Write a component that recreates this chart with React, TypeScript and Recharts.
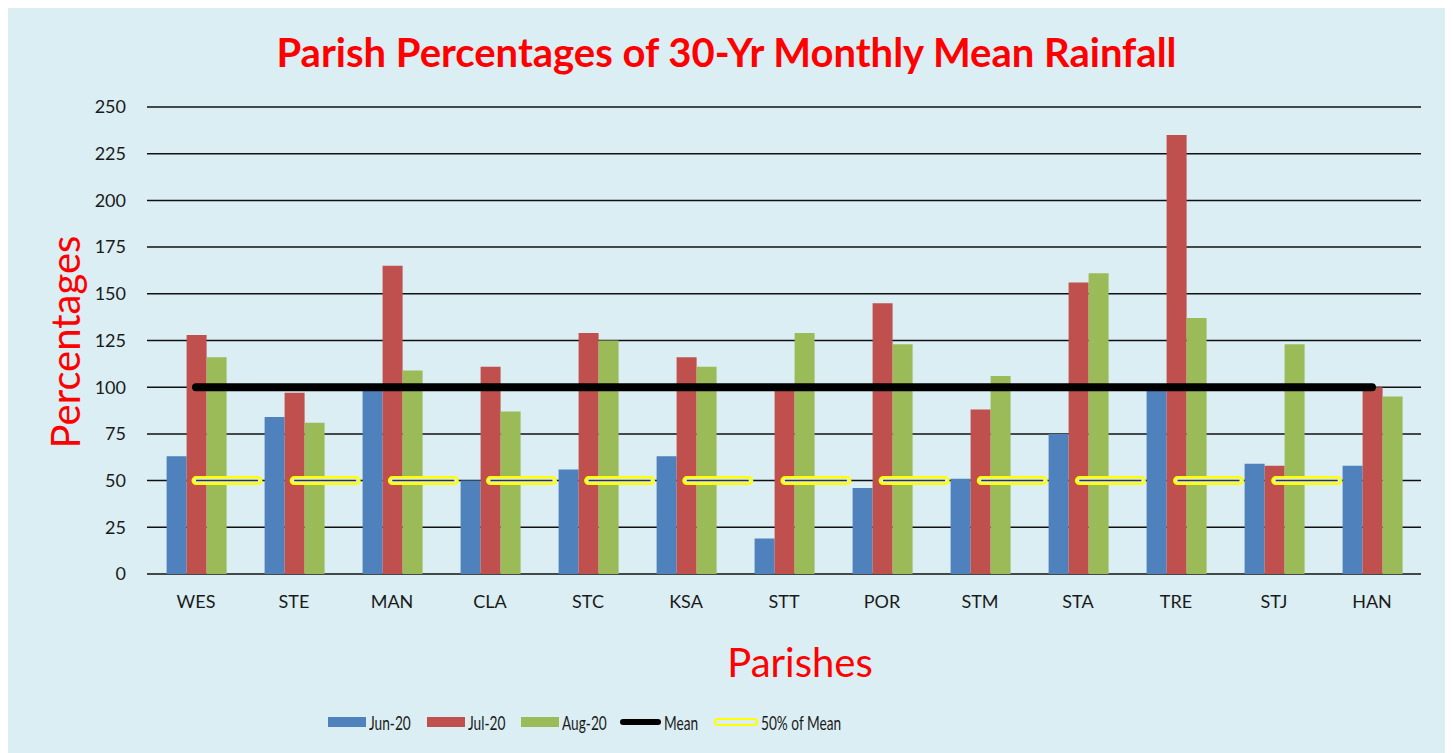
import { ComposedChart, Bar, Line, XAxis, YAxis, CartesianGrid } from 'recharts';

const parishes = ['WES', 'STE', 'MAN', 'CLA', 'STC', 'KSA', 'STT', 'POR', 'STM', 'STA', 'TRE', 'STJ', 'HAN'];
const jun20 = [63, 84, 100, 50, 56, 63, 19, 46, 51, 75, 100, 59, 58];
const jul20 = [128, 97, 165, 111, 129, 116, 100, 145, 88, 156, 235, 58, 100];
const aug20 = [116, 81, 109, 87, 125, 111, 129, 123, 106, 161, 137, 123, 95];
const meanValue = 100;
const halfMeanValue = 50;
const yTicks = [0, 25, 50, 75, 100, 125, 150, 175, 200, 225, 250];

const BLUE = '#4F81BD';
const RED = '#C0504D';
const GREEN = '#9BBB59';
const BG = '#DAEEF3';
const FONT = 'Lato, "Open Sans", sans-serif';

const data = parishes.map((p, i) => ({
    parish: p,
    jun: jun20[i],
    jul: jul20[i],
    aug: aug20[i],
    mean: meanValue,
    half: halfMeanValue,
}));

// one dash per category band (band = 98px)
const HALF_DASH = '62 36.15';

function LegendItem({ left, icon, label }: { left: number; icon: React.ReactNode; label: string }) {
    return (
        <div
            style={{
                position: 'absolute',
                left,
                top: 0,
                height: 20,
                display: 'flex',
                alignItems: 'center',
            }}
        >
            {icon}
            <span
                style={{
                    display: 'inline-block',
                    marginLeft: 3,
                    fontSize: 19,
                    color: '#1a1a1a',
                    transform: 'scaleX(0.72)',
                    transformOrigin: 'left center',
                    whiteSpace: 'nowrap',
                }}
            >
                {label}
            </span>
        </div>
    );
}

export default function App() {
    return (
        <div
            style={{
                position: 'relative',
                marginLeft: -2,
                width: 1441,
                height: 745,
                background: BG,
                boxShadow: '0 0 0 1px #d4d4d4',
                fontFamily: FONT,
            }}
        >
            <ComposedChart
                width={1441}
                height={745}
                data={data}
                margin={{ top: 99, right: 26, bottom: 149, left: 0 }}
                barCategoryGap="20%"
                barGap={0}
            >
                <CartesianGrid vertical={false} stroke="#111" strokeWidth={1.5} />
                <XAxis
                    dataKey="parish"
                    height={30}
                    axisLine={false}
                    tickLine={false}
                    tickSize={0}
                    tickMargin={21}
                    tick={{ fill: '#1a1a1a', fontSize: 18, fontFamily: FONT }}
                />
                <YAxis
                    width={141}
                    domain={[0, 250]}
                    ticks={yTicks}
                    axisLine={false}
                    tickLine={false}
                    tickSize={0}
                    tickMargin={21}
                    tick={{ fill: '#1a1a1a', fontSize: 18, fontFamily: FONT }}
                />
                <Bar dataKey="jun" fill={BLUE} isAnimationActive={false} />
                <Bar dataKey="jul" fill={RED} isAnimationActive={false} />
                <Bar dataKey="aug" fill={GREEN} isAnimationActive={false} />
                <Line
                    dataKey="mean"
                    stroke="#000"
                    strokeWidth={8}
                    strokeLinecap="round"
                    dot={false}
                    activeDot={false}
                    isAnimationActive={false}
                />
                <Line
                    dataKey="half"
                    stroke="#FFFF00"
                    strokeWidth={9}
                    strokeLinecap="round"
                    strokeDasharray={HALF_DASH}
                    dot={false}
                    activeDot={false}
                    isAnimationActive={false}
                />
                <Line
                    dataKey="half"
                    stroke={BG}
                    strokeWidth={4}
                    strokeLinecap="round"
                    strokeDasharray={HALF_DASH}
                    dot={false}
                    activeDot={false}
                    isAnimationActive={false}
                />
                <Line
                    dataKey="half"
                    stroke="#333"
                    strokeWidth={1.5}
                    strokeDasharray={HALF_DASH}
                    dot={false}
                    activeDot={false}
                    isAnimationActive={false}
                />
            </ComposedChart>

            <div
                style={{
                    position: 'absolute',
                    left: 0,
                    top: 20,
                    width: '100%',
                    textAlign: 'center',
                    fontSize: 40,
                    fontWeight: 700,
                    color: '#FF0000',
                    lineHeight: 1.2,
                }}
            >
                Parish Percentages of 30-Yr Monthly Mean Rainfall
            </div>

            <div
                style={{
                    position: 'absolute',
                    left: 59,
                    top: 334,
                    transform: 'translate(-50%, -50%) rotate(-90deg)',
                    fontSize: 40,
                    color: '#FF0000',
                    whiteSpace: 'nowrap',
                }}
            >
                Percentages
            </div>

            <div
                style={{
                    position: 'absolute',
                    left: 794,
                    top: 654,
                    transform: 'translate(-50%, -50%)',
                    fontSize: 40,
                    color: '#FF0000',
                    whiteSpace: 'nowrap',
                }}
            >
                Parishes
            </div>

            <div style={{ position: 'absolute', left: 0, top: 704, width: '100%', height: 20 }}>
                <LegendItem left={322} icon={<div style={{ width: 38, height: 10, background: BLUE }} />} label="Jun-20" />
                <LegendItem left={421} icon={<div style={{ width: 38, height: 10, background: RED }} />} label="Jul-20" />
                <LegendItem left={515} icon={<div style={{ width: 38, height: 10, background: GREEN }} />} label="Aug-20" />
                <LegendItem
                    left={614}
                    icon={<div style={{ width: 41, height: 6, background: '#000', borderRadius: 3 }} />}
                    label="Mean"
                />
                <LegendItem
                    left={708}
                    icon={
                        <div
                            style={{
                                width: 40,
                                height: 4,
                                border: '2px solid #FFFF00',
                                borderRadius: 5,
                            }}
                        />
                    }
                    label="50% of Mean"
                />
            </div>
        </div>
    );
}
